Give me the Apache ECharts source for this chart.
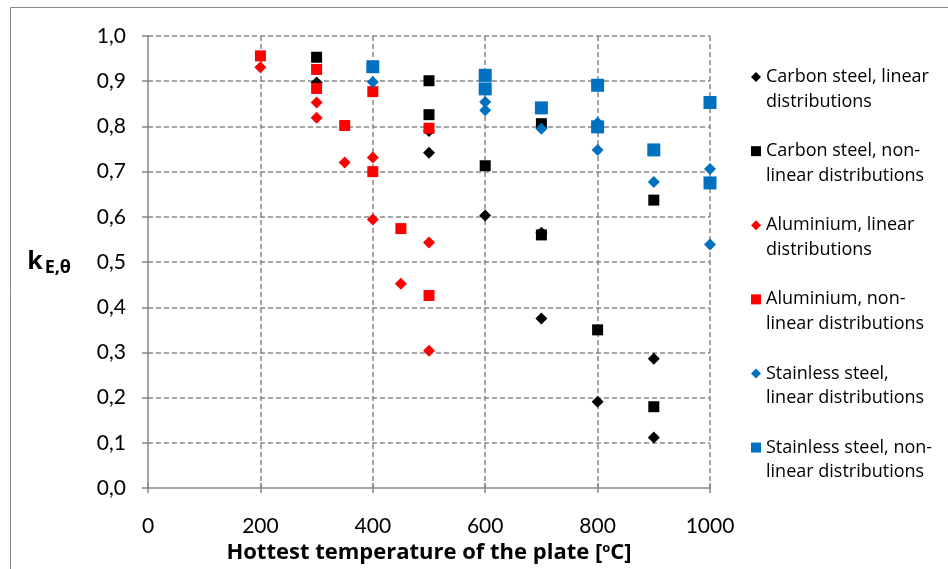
<!DOCTYPE html>
<html>
<head>
<meta charset="utf-8">
<script src="https://cdn.jsdelivr.net/npm/echarts@6/dist/echarts.min.js"></script>
<style>
  html, body { margin: 0; padding: 0; background: #ffffff; }
  #chart { width: 948px; height: 569px; }
</style>
</head>
<body>
<div id="chart"></div>
<script>
// Elastic modulus reduction factor k_E,θ versus hottest plate temperature
const xTicks = [0, 200, 400, 600, 800, 1000];
const yTicks = [0.0, 0.1, 0.2, 0.3, 0.4, 0.5, 0.6, 0.7, 0.8, 0.9, 1.0];

const seriesNames = [
  'Carbon steel, linear\ndistributions',
  'Carbon steel, non-\nlinear distributions',
  'Aluminium, linear\ndistributions',
  'Aluminium, non-\nlinear distributions',
  'Stainless steel,\nlinear distributions',
  'Stainless steel, non-\nlinear distributions'
];

// [temperature °C, k_E,θ]
const carbonLinear = [
  [300, 0.897], [500, 0.790], [500, 0.742], [600, 0.603],
  [700, 0.565], [700, 0.375], [800, 0.191], [900, 0.286], [900, 0.112]
];
const carbonNonLinear = [
  [300, 0.953], [500, 0.901], [500, 0.826], [600, 0.713],
  [700, 0.806], [700, 0.560], [800, 0.350], [900, 0.637], [900, 0.180]
];
const aluminiumLinear = [
  [200, 0.931], [300, 0.853], [300, 0.819], [350, 0.720], [400, 0.731],
  [400, 0.594], [450, 0.452], [500, 0.543], [500, 0.304]
];
const aluminiumNonLinear = [
  [200, 0.956], [300, 0.926], [300, 0.884], [350, 0.802], [400, 0.877],
  [400, 0.700], [450, 0.574], [500, 0.796], [500, 0.426]
];
const stainlessLinear = [
  [400, 0.898], [600, 0.854], [600, 0.836], [700, 0.795], [800, 0.808],
  [800, 0.748], [900, 0.677], [1000, 0.706], [1000, 0.539]
];
const stainlessNonLinear = [
  [400, 0.932], [600, 0.913], [600, 0.883], [700, 0.841], [800, 0.891],
  [800, 0.799], [900, 0.748], [1000, 0.853], [1000, 0.675]
];

const colors = ['#000000', '#000000', '#ff0000', '#ff0000', '#0070c0', '#0070c0'];
const symbols = ['diamond', 'rect', 'diamond', 'rect', 'diamond', 'rect'];
const sizes = [12, 11, 12, 11, 12, 13];
const dataSets = [carbonLinear, carbonNonLinear, aluminiumLinear, aluminiumNonLinear, stainlessLinear, stainlessNonLinear];

const FONT = 'Lato';
const TEXT_FONT = 'Open Sans';
const AXIS_GREY = '#868686';

const chart = echarts.init(document.getElementById('chart'), null, { renderer: 'canvas' });

const option = {
  backgroundColor: '#ffffff',
  animation: false,
  textStyle: { fontFamily: FONT },
  grid: { left: 148, right: 238, top: 36, bottom: 80, containLabel: false },
  graphic: [{
    type: 'rect',
    shape: { x: 10.5, y: 7.5, width: 1000, height: 1000 },
    style: { fill: 'none', stroke: AXIS_GREY, lineWidth: 1 },
    silent: true,
    z: -10
  }],
  legend: {
    orient: 'vertical',
    left: 751,
    top: 40,
    padding: 0,
    itemGap: 0,
    itemWidth: 10,
    itemHeight: 10,
    selectedMode: false,
    // leading blank line keeps the marker level with the first text line
    formatter: name => '\n' + name,
    data: seriesNames.map((n, i) => ({
      name: n,
      icon: symbols[i],
      itemStyle: { color: colors[i] }
    })),
    textStyle: {
      fontFamily: TEXT_FONT,
      fontSize: 18,
      color: '#000000',
      lineHeight: 24.7
    }
  },
  xAxis: [{
    type: 'value',
    min: 0,
    max: 1000,
    interval: 200,
    name: 'Hottest temperature of the plate [{sup|o}C]',
    nameLocation: 'middle',
    nameGap: 46,
    nameTextStyle: {
      fontFamily: TEXT_FONT,
      fontSize: 22,
      fontWeight: 'bold',
      color: '#000000',
      rich: {
        sup: { fontFamily: TEXT_FONT, fontSize: 13, fontWeight: 'bold', verticalAlign: 'top', padding: [0, 0, 9, 0] }
      }
    },
    axisLine: { show: true, lineStyle: { color: AXIS_GREY, width: 1.5 } },
    axisTick: { show: true, length: 5, lineStyle: { color: AXIS_GREY, width: 1.5 } },
    axisLabel: {
      margin: 28,
      fontFamily: FONT,
      fontSize: 21,
      color: '#000000',
      formatter: v => String(v)
    },
    splitLine: { show: true, showMinLine: false, lineStyle: { color: AXIS_GREY, width: 1.5, type: [5, 3] } }
  }, {
    // inner half of the crossing tick marks
    type: 'value',
    min: 0,
    max: 1000,
    interval: 200,
    position: 'bottom',
    axisLine: { show: false },
    axisTick: { show: true, inside: true, length: 5, lineStyle: { color: AXIS_GREY, width: 1.5 } },
    axisLabel: { show: false },
    splitLine: { show: false }
  }],
  yAxis: {
    type: 'value',
    min: 0,
    max: 1,
    interval: 0.1,
    name: '{k|k}{s|E,θ}',
    nameLocation: 'middle',
    nameRotate: 0,
    nameGap: 77,
    nameTextStyle: {
      rich: {
        k: { fontFamily: TEXT_FONT, fontSize: 25, fontWeight: 'bold', color: '#000000', padding: [0, 2, 0, 0] },
        s: { fontFamily: TEXT_FONT, fontSize: 18, fontWeight: 'bold', color: '#000000', verticalAlign: 'bottom', padding: [12, 0, 0, 0] }
      }
    },
    axisLine: { show: true, lineStyle: { color: AXIS_GREY, width: 1.5 } },
    axisTick: { show: true, length: 6, lineStyle: { color: AXIS_GREY, width: 1.5 } },
    axisLabel: {
      margin: 22,
      fontFamily: FONT,
      fontSize: 21,
      color: '#000000',
      formatter: v => v.toFixed(1).replace('.', ',')
    },
    splitLine: { show: true, showMinLine: false, lineStyle: { color: AXIS_GREY, width: 1.5, type: [5, 3] } }
  },
  series: dataSets.map((d, i) => ({
    name: seriesNames[i],
    type: 'scatter',
    data: d,
    symbol: symbols[i],
    symbolSize: sizes[i],
    itemStyle: { color: colors[i], opacity: 1 },
    z: 2 + i,
    emphasis: { disabled: true }
  }))
};

chart.setOption(option);
</script>
</body>
</html>
